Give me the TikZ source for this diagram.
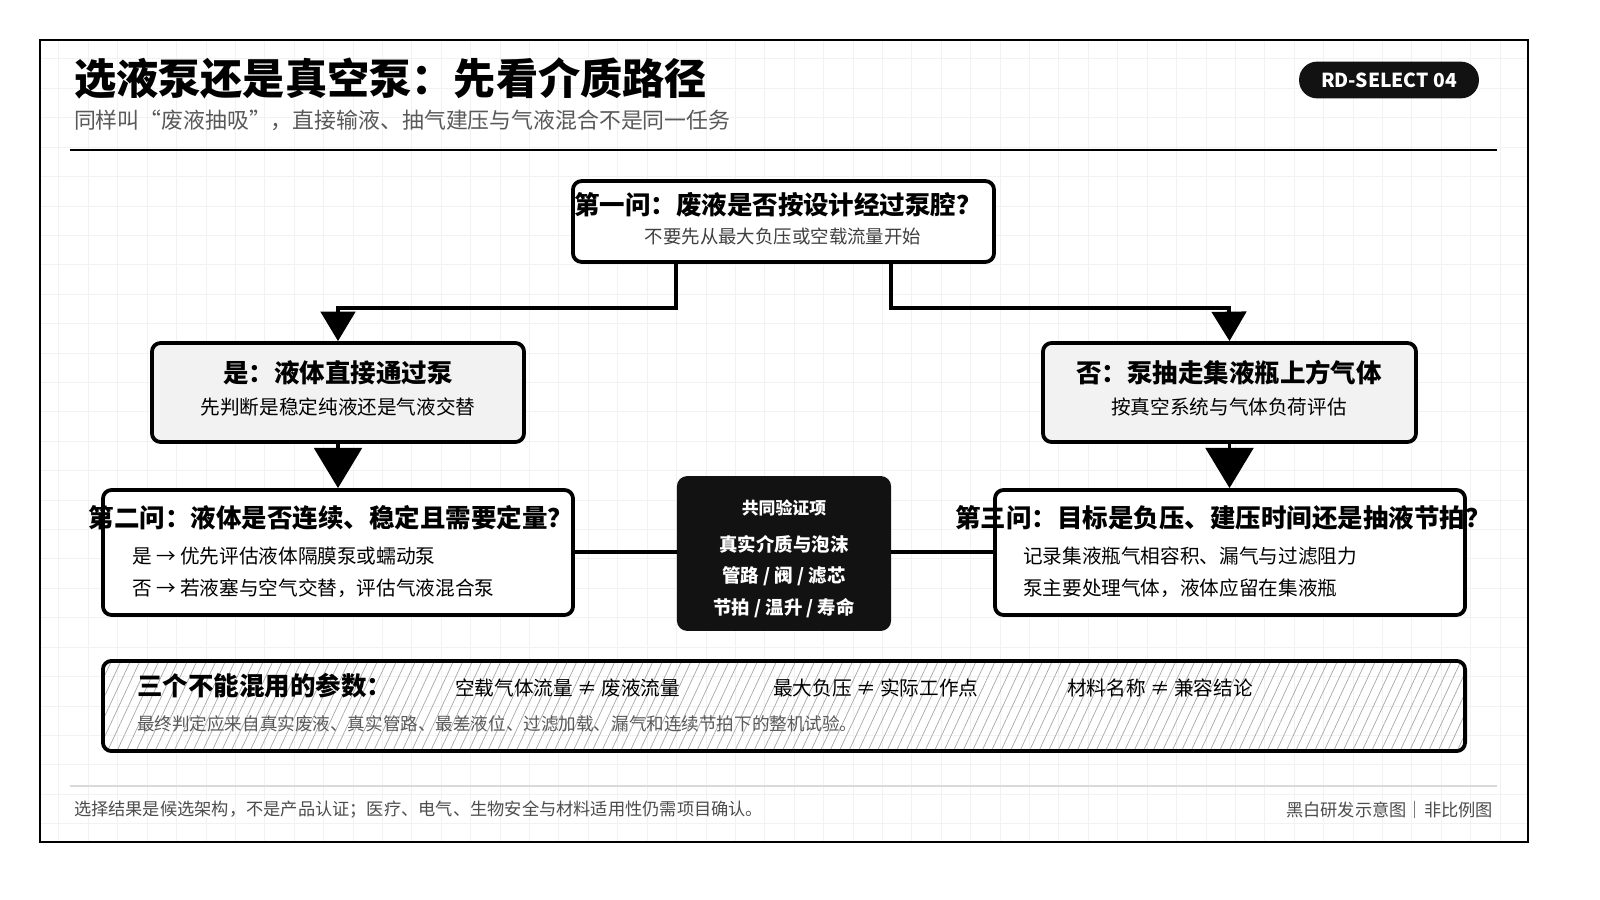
\documentclass[tikz,border=0pt]{standalone}
\usepackage{fontspec}
\setmainfont{Noto Sans CJK SC}
\usetikzlibrary{arrows.meta,patterns.meta}
\begin{document}
\begin{tikzpicture}[x=0.0204cm,y=-0.0204cm,
  box/.style={draw=black,line width=2.2pt,rounded corners=5pt,fill=white},
  ttl/.style={font=\bfseries\fontsize{14.8}{16}\selectfont},
  sub/.style={font=\fontsize{10.7}{12}\selectfont,text=black!75},
  body/.style={font=\fontsize{11.4}{13}\selectfont,anchor=west},
  wt/.style={font=\bfseries\fontsize{9.8}{11}\selectfont,text=white},
  conn/.style={line width=2.2pt},
  big/.style={-{Triangle[width=0.7cm,length=0.6cm]}},
  huge/.style={-{Triangle[width=0.97cm,length=0.82cm]}}]
\fill[white] (0,0) rectangle (1600,900);
\draw[black!5,line width=0.4pt,step=0.6cm] (40,40) grid (1528,842);
\draw[line width=1.2pt] (40,40) rectangle (1528,842);
% header
\node[anchor=west,font=\bfseries\fontsize{24.5}{28}\selectfont] (title) at (68,78) {选液泵还是真空泵：先看介质路径};
\node[anchor=west,font=\fontsize{12.7}{14}\selectfont,text=black!65] (subt) at (68,120) {同样叫“废液抽吸”，直接输液、抽气建压与气液混合不是同一任务};
\node[fill=black!93,rounded corners=10.5pt,minimum width=3.67cm,minimum height=0.75cm,text=white,font=\bfseries\fontsize{11.2}{13}\selectfont] (badge) at (1389,80) {RD-SELECT 04};
\draw[line width=1.2pt] (70,150) -- (1497,150);
% Q1
\node[box,minimum width=8.59cm,minimum height=1.65cm] (q1) at (783.5,221.5) {};
\node[ttl] (q1t) at (778,205) {第一问：废液是否按设计经过泵腔？};
\node[sub] (q1s) at (783,236) {不要先从最大负压或空载流量开始};
% yes/no
\node[box,fill=black!5,minimum width=7.59cm,minimum height=2.02cm] (yes) at (338,392.5) {};
\node[ttl] at (338,373) {是：液体直接通过泵};
\node[font=\fontsize{11.4}{13}\selectfont] at (338,407) {先判断是稳定纯液还是气液交替};
\node[box,fill=black!5,minimum width=7.61cm,minimum height=2.02cm] (no) at (1229.5,392.5) {};
\node[ttl] at (1229,373) {否：泵抽走集液瓶上方气体};
\node[font=\fontsize{11.4}{13}\selectfont] at (1229,407) {按真空系统与气体负荷评估};
\coordinate (q1l) at (676,262);
\coordinate (q1r) at (891,262);
\draw[conn,big] (q1l) -- (676,308) -- (338,308) -- (yes.north);
\draw[conn,big] (q1r) -- (891,308) -- (1229,308) -- (no.north);
% Q2 / Q3
\node[box,minimum width=9.59cm,minimum height=2.55cm] (q2) at (338,552.5) {};
\node[box,minimum width=9.59cm,minimum height=2.55cm] (q3) at (1230,552.5) {};
\draw[conn,huge] (yes.south) -- (q2.north-|yes.south);
\draw[conn,huge] (no.south) -- (q3.north-|no.south);
\node[ttl] at (331,518) {第二问：液体是否连续、稳定且需要定量？};
\node[body] at (126,556) {是 → 优先评估液体隔膜泵或蠕动泵};
\node[body] at (126,588) {否 → 若液塞与空气交替，评估气液混合泵};
\node[ttl] at (1223,518) {第三问：目标是负压、建压时间还是抽液节拍？};
\node[body] at (1017,556) {记录集液瓶气相容积、漏气与过滤阻力};
\node[body] at (1017,588) {泵主要处理气体，液体应留在集液瓶};
% center
\node[fill=black!93,rounded corners=6pt,minimum width=4.37cm,minimum height=3.16cm] (ctr) at (784,553.5) {};
\node[wt] at (784,508) {共同验证项};
\node[wt,font=\bfseries\fontsize{10.7}{12}\selectfont] at (784,544) {真实介质与泡沫};
\node[wt,font=\bfseries\fontsize{10.7}{12}\selectfont] at (784,576) {管路 / 阀 / 滤芯};
\node[wt,font=\bfseries\fontsize{10.7}{12}\selectfont] at (784,608) {节拍 / 温升 / 寿命};
\draw[conn] (q2.east|-0,552) -- (ctr.west|-0,552);
\draw[conn] (ctr.east|-0,552) -- (q3.west|-0,552);
% hatched
\node[box,pattern={Lines[angle=65,distance=5pt,line width=0.4pt]},pattern color=black!35,minimum width=27.79cm,minimum height=1.84cm] (par) at (784,706) {};
\node[anchor=west,font=\bfseries\fontsize{14.8}{16}\selectfont] at (131,686) {三个不能混用的参数：};
\node[body] at (449,688) {空载气体流量 ≠ 废液流量};
\node[body] at (767,688) {最大负压 ≠ 实际工作点};
\node[body] at (1061,688) {材料名称 ≠ 兼容结论};
\node[anchor=west,font=\fontsize{10.2}{12}\selectfont,text=black!65] at (131,724) {最终判定应来自真实废液、真实管路、最差液位、过滤加载、漏气和连续节拍下的整机试验。};
% footer
\draw[black!15,line width=1pt] (70,786) -- (1497,786);
\node[anchor=west,font=\fontsize{10}{12}\selectfont,text=black!70] at (68,810) {选择结果是候选架构，不是产品认证；医疗、电气、生物安全与材料适用性仍需项目确认。};
\node[anchor=east,font=\fontsize{10}{12}\selectfont,text=black!70] at (1499,810) {黑白研发示意图｜非比例图};
\pgfresetboundingbox
\useasboundingbox (0,0) rectangle (1600,900);
\end{tikzpicture}
\end{document}
